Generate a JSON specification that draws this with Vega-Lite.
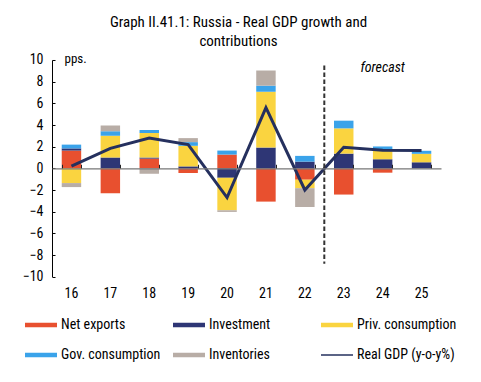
{
  "$schema": "https://vega.github.io/schema/vega-lite/v6.json",
  "width": 389,
  "height": 216.7,
  "autosize": {"type": "none"},
  "padding": {"left": 52, "top": 60, "right": 40, "bottom": 105},
  "background": "white",
  "config": {
    "font": "Roboto Condensed, Roboto, sans-serif",
    "view": {"stroke": null},
    "axis": {"labelFont": "Roboto Condensed, Roboto, sans-serif", "titleFont": "Roboto Condensed, Roboto, sans-serif", "labelColor": "#000", "grid": false},
    "legend": {"labelFont": "Roboto Condensed, Roboto, sans-serif"}
  },
  "title": {
    "text": ["Graph II.41.1: Russia - Real GDP growth and", "contributions"],
    "fontSize": 15,
    "fontWeight": "normal",
    "font": "Roboto Condensed, Roboto, sans-serif",
    "color": "#000",
    "anchor": "middle",
    "dx": -8,
    "offset": 4,
    "lineHeight": 19
  },
  "datasets": {
    "contrib": [
      {"year": "16", "series": "Net exports", "ord": 1, "value": 1.64},
      {"year": "16", "series": "Investment", "ord": 2, "value": 0.2},
      {"year": "16", "series": "Priv. consumption", "ord": 3, "value": -1.36},
      {"year": "16", "series": "Gov. consumption", "ord": 4, "value": 0.35},
      {"year": "16", "series": "Inventories", "ord": 5, "value": -0.37},
      {"year": "17", "series": "Net exports", "ord": 1, "value": -2.3},
      {"year": "17", "series": "Investment", "ord": 2, "value": 1.0},
      {"year": "17", "series": "Priv. consumption", "ord": 3, "value": 2.0},
      {"year": "17", "series": "Gov. consumption", "ord": 4, "value": 0.43},
      {"year": "17", "series": "Inventories", "ord": 5, "value": 0.53},
      {"year": "18", "series": "Net exports", "ord": 1, "value": 0.9},
      {"year": "18", "series": "Investment", "ord": 2, "value": 0.1},
      {"year": "18", "series": "Priv. consumption", "ord": 3, "value": 2.26},
      {"year": "18", "series": "Gov. consumption", "ord": 4, "value": 0.28},
      {"year": "18", "series": "Inventories", "ord": 5, "value": -0.5},
      {"year": "19", "series": "Net exports", "ord": 1, "value": -0.43},
      {"year": "19", "series": "Investment", "ord": 2, "value": 0.18},
      {"year": "19", "series": "Priv. consumption", "ord": 3, "value": 1.9},
      {"year": "19", "series": "Gov. consumption", "ord": 4, "value": 0.34},
      {"year": "19", "series": "Inventories", "ord": 5, "value": 0.37},
      {"year": "20", "series": "Net exports", "ord": 1, "value": 1.27},
      {"year": "20", "series": "Investment", "ord": 2, "value": -0.87},
      {"year": "20", "series": "Priv. consumption", "ord": 3, "value": -3.0},
      {"year": "20", "series": "Gov. consumption", "ord": 4, "value": 0.37},
      {"year": "20", "series": "Inventories", "ord": 5, "value": -0.15},
      {"year": "21", "series": "Net exports", "ord": 1, "value": -3.07},
      {"year": "21", "series": "Investment", "ord": 2, "value": 1.92},
      {"year": "21", "series": "Priv. consumption", "ord": 3, "value": 5.15},
      {"year": "21", "series": "Gov. consumption", "ord": 4, "value": 0.56},
      {"year": "21", "series": "Inventories", "ord": 5, "value": 1.4},
      {"year": "22", "series": "Net exports", "ord": 1, "value": -1.05},
      {"year": "22", "series": "Investment", "ord": 2, "value": 0.62},
      {"year": "22", "series": "Priv. consumption", "ord": 3, "value": -0.78},
      {"year": "22", "series": "Gov. consumption", "ord": 4, "value": 0.53},
      {"year": "22", "series": "Inventories", "ord": 5, "value": -1.74},
      {"year": "23", "series": "Net exports", "ord": 1, "value": -2.42},
      {"year": "23", "series": "Investment", "ord": 2, "value": 1.36},
      {"year": "23", "series": "Priv. consumption", "ord": 3, "value": 2.33},
      {"year": "23", "series": "Gov. consumption", "ord": 4, "value": 0.71},
      {"year": "23", "series": "Inventories", "ord": 5, "value": 0},
      {"year": "24", "series": "Net exports", "ord": 1, "value": -0.4},
      {"year": "24", "series": "Investment", "ord": 2, "value": 0.84},
      {"year": "24", "series": "Priv. consumption", "ord": 3, "value": 0.84},
      {"year": "24", "series": "Gov. consumption", "ord": 4, "value": 0.34},
      {"year": "24", "series": "Inventories", "ord": 5, "value": 0},
      {"year": "25", "series": "Net exports", "ord": 1, "value": 0},
      {"year": "25", "series": "Investment", "ord": 2, "value": 0.56},
      {"year": "25", "series": "Priv. consumption", "ord": 3, "value": 0.78},
      {"year": "25", "series": "Gov. consumption", "ord": 4, "value": 0.28},
      {"year": "25", "series": "Inventories", "ord": 5, "value": 0}
    ],
    "gdp": [
      {"year": "16", "value": 0.2},
      {"year": "17", "value": 1.85},
      {"year": "18", "value": 2.8},
      {"year": "19", "value": 2.2},
      {"year": "20", "value": -2.7},
      {"year": "21", "value": 5.6},
      {"year": "22", "value": -2.0},
      {"year": "23", "value": 1.95},
      {"year": "24", "value": 1.67},
      {"year": "25", "value": 1.64}
    ],
    "notes": [
      {"year": "24", "value": 9.3, "label": "forecast"}
    ],
    "divider": [
      {"year": "23", "value": 9.5, "value2": -8.8}
    ]
  },
  "layer": [
    {
      "data": {"name": "contrib"},
      "mark": {"type": "bar"},
      "encoding": {
        "x": {
          "field": "year", "type": "ordinal", "sort": null,
          "scale": {"paddingInner": 0.5, "paddingOuter": 0.25},
          "axis": {"title": null, "domain": false, "ticks": false, "labelAngle": 0, "labelFontSize": 14, "labelPadding": 10, "labelColor": "#000"}
        },
        "y": {
          "field": "value", "type": "quantitative", "stack": "zero",
          "scale": {"domain": [-10, 10], "nice": false},
          "axis": {
            "values": [-10, -8, -6, -4, -2, 0, 2, 4, 6, 8, 10],
            "tickCount": 11,
            "labelOverlap": false,
            "title": "pps.", "titleAngle": 0, "titleAlign": "left", "titleBaseline": "alphabetic",
            "titleX": 12, "titleY": 3, "titleFontSize": 13, "titleFontWeight": "normal", "titleColor": "#000",
            "labelFontSize": 14, "labelPadding": 12, "domainColor": "#000", "tickColor": "#000", "tickSize": -3
          }
        },
        "color": {
          "field": "series", "type": "nominal",
          "scale": {
            "domain": ["Net exports", "Investment", "Priv. consumption", "Gov. consumption", "Inventories", "Real GDP (y-o-y%)"],
            "range": ["#E8502F", "#2E3675", "#FAD440", "#3AA3EA", "#B8ADA6", "#25305E"]
          },
          "legend": {
            "title": null, "orient": "none", "legendX": -27, "legendY": 249, "columns": 3, "direction": "horizontal",
            "gridAlign": "all", "columnPadding": 12, "rowPadding": 7,
            "labelFontSize": 14, "labelColor": "#000", "labelOffset": 4, "labelLimit": 200,
            "symbolSize": 1024, "symbolType": "M-1,-0.135H1V0.135H-1Z", "symbolStrokeWidth": 0,
            "encode": {
              "symbols": {
                "update": {
                  "shape": {"signal": "datum.value === 'Real GDP (y-o-y%)' ? 'M-1,-0.05H1V0.05H-1Z' : 'M-1,-0.135H1V0.135H-1Z'"},
                  "fill": {"scale": "color", "field": "value"},
                  "strokeWidth": {"value": 0}
                }
              }
            }
          }
        },
        "order": {"field": "ord", "type": "quantitative"}
      }
    },
    {
      "data": {"name": "gdp"},
      "mark": {"type": "line", "strokeWidth": 3},
      "encoding": {
        "x": {
          "field": "year", "type": "ordinal", "sort": null,
          "axis": {"title": null, "orient": "bottom", "offset": -108.4, "labels": false, "domainColor": "#777", "domainWidth": 1.2, "tickColor": "#222", "tickSize": -4, "tickBand": "extent", "zindex": 1}
        },
        "y": {"field": "value", "type": "quantitative"},
        "color": {"datum": "Real GDP (y-o-y%)"}
      }
    },
    {
      "data": {"name": "divider"},
      "mark": {"type": "rule", "strokeDash": [4.5, 2.5], "strokeWidth": 2, "color": "#333"},
      "encoding": {
        "x": {"field": "year", "type": "ordinal", "bandPosition": -0.5, "axis": null},
        "y": {"field": "value", "type": "quantitative"},
        "y2": {"field": "value2"}
      }
    },
    {
      "data": {"name": "notes"},
      "mark": {"type": "text", "fontSize": 14, "fontStyle": "italic", "color": "#000", "baseline": "middle"},
      "encoding": {
        "x": {"field": "year", "type": "ordinal", "axis": null},
        "y": {"field": "value", "type": "quantitative"},
        "text": {"field": "label"}
      }
    }
  ],
  "resolve": {"axis": {"x": "independent"}}
}
